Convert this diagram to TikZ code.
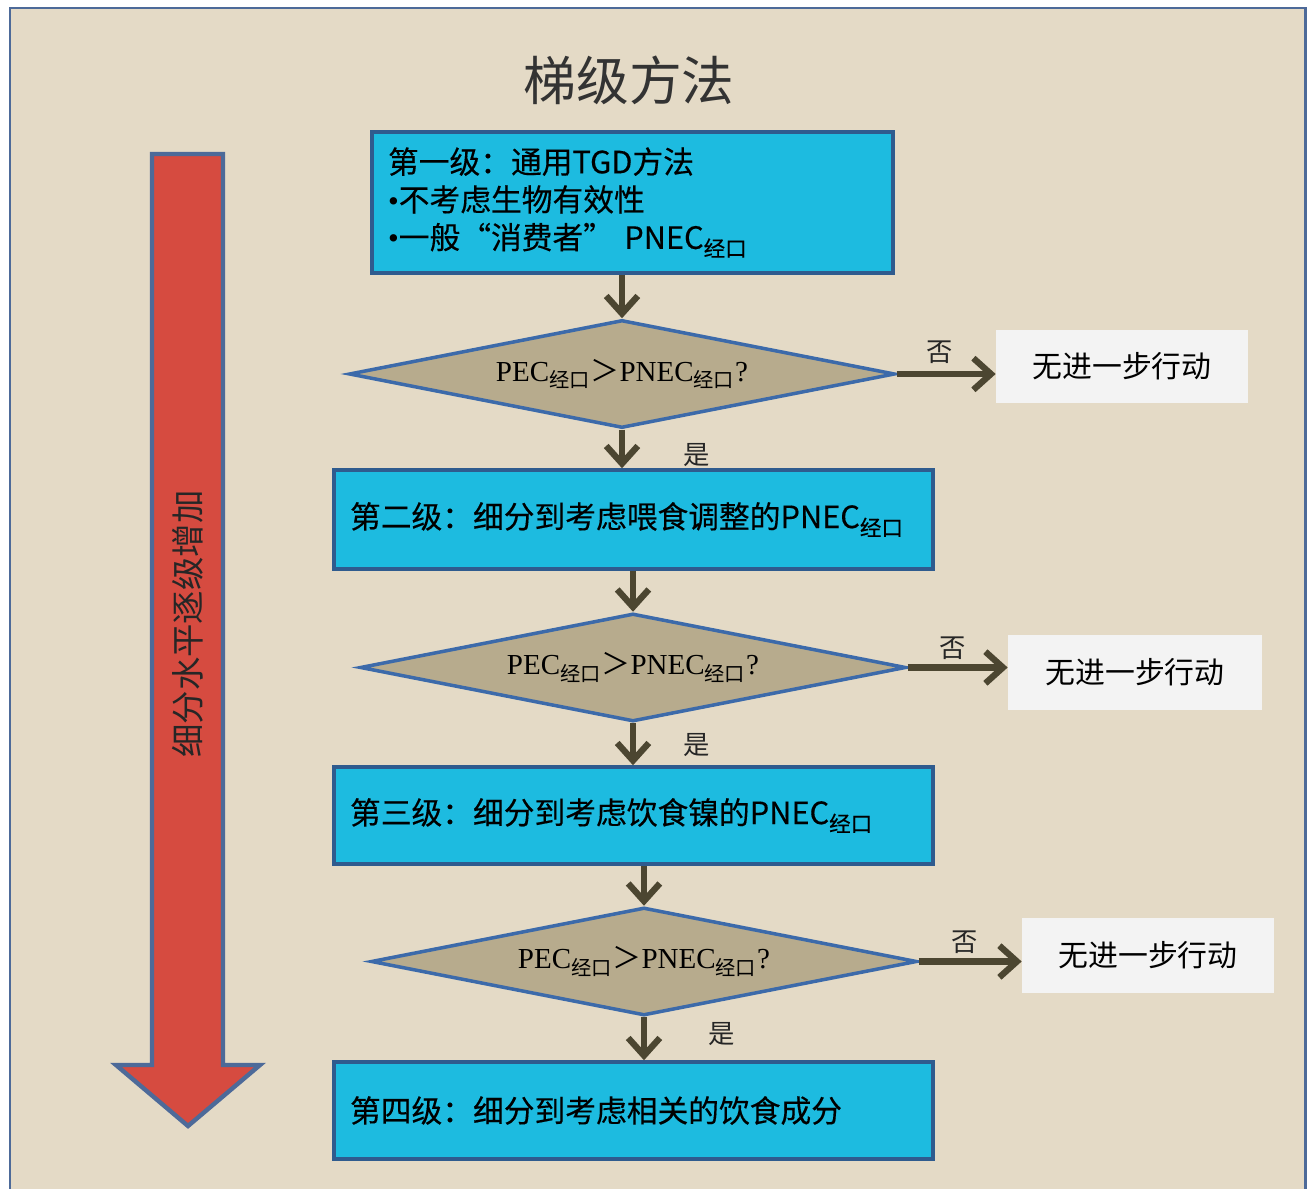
\documentclass[tikz,border=0pt]{standalone}
\usepackage{fontspec}
\setmainfont{Liberation Serif}
\newfontfamily\cjk{Noto Sans CJK SC}
\newfontfamily\cjkb[FakeBold=0.35]{Noto Sans CJK SC}
\usetikzlibrary{shapes.geometric,arrows.meta,calc}
\definecolor{bg}{HTML}{E4DAC6}
\definecolor{frameline}{HTML}{4D6A99}
\definecolor{boxfill}{HTML}{1DBBE0}
\definecolor{boxline}{HTML}{2F5B8E}
\definecolor{dfill}{HTML}{B7AB8D}
\definecolor{dline}{HTML}{3C6AAA}
\definecolor{arrowc}{HTML}{4C4631}
\definecolor{redf}{HTML}{D64B40}
\definecolor{nofill}{HTML}{F3F3F3}
\newcommand{\jk}{\textsubscript{经口}}
\newcommand{\jks}{\textsubscript{\cjk 经口}}
\newcommand{\bul}{{\rmfamily •}}
\begin{document}
\begin{tikzpicture}[x=0.02cm,y=-0.02cm,
  lvl/.style={draw=boxline, line width=2pt, fill=boxfill, rectangle, inner xsep=0.32cm, inner ysep=0pt, align=left, font=\cjkb\fontsize{17.5}{21.5}\selectfont},
  dec/.style={diamond, draw=dline, line width=2pt, fill=dfill, inner sep=0pt, aspect=5, minimum width=10.92cm, minimum height=2.16cm, font=\fontsize{16.5}{19}\selectfont},
  stopbox/.style={rectangle, fill=nofill, inner sep=0pt, font=\cjk\fontsize{17}{20}\selectfont},
  flow/.style={draw=arrowc, line width=3.6pt, -{Straight Barb[length=10pt,width=18pt]}},
  lab/.style={font=\cjk\fontsize{15}{17}\selectfont, inner sep=0pt, text=black!85}
]
\useasboundingbox (0,0) rectangle (1309,1189);
\fill[white] (0,0) rectangle (1309,1189);
\draw[fill=bg, draw=frameline, line width=1.7pt] (10,8) rectangle (1305,1240);

% title
\node[font=\cjk\fontsize{30}{34}\selectfont, text=black!80] (title) at (629,80) {梯级方法};

% red arrow
\draw[draw=frameline, line width=2.5pt, fill=redf, line join=miter]
  (152,154) -- (223,154) -- (223,1065) -- (260,1065) -- (188,1126) -- (116,1065) -- (152,1065) -- cycle;
\node[rotate=90, font=\cjk\fontsize{19}{22}\selectfont, text=black!85] (vt) at (188,624) {细分水平逐级增加};

% level boxes
\node[lvl, text width=9.78cm, minimum height=2.82cm] (b1) at (632.5,202.5)
  {第一级：通用TGD方法\\\bul 不考虑生物有效性\\\bul 一般“消费者” PNEC\jk};
\node[lvl, text width=11.34cm, minimum height=1.98cm] (b2) at (633.5,519.5)
  {第二级：细分到考虑喂食调整的PNEC\jk};
\node[lvl, text width=11.34cm, minimum height=1.94cm] (b3) at (633.5,815.5)
  {第三级：细分到考虑饮食镍的PNEC\jk};
\node[lvl, text width=11.34cm, minimum height=1.94cm] (b4) at (633.5,1110.5)
  {第四级：细分到考虑相关的饮食成分};

% decisions
\node[dec] (d1) at (622,374) {PEC\jks{\cjk ＞}PNEC\jks?};
\node[dec] (d2) at (633,667.5) {PEC\jks{\cjk ＞}PNEC\jks?};
\node[dec] (d3) at (644,961.5) {PEC\jks{\cjk ＞}PNEC\jks?};

% stop boxes
\node[stopbox, minimum width=5.04cm, minimum height=1.46cm] (n1) at (1122,366.5) {无进一步行动};
\node[stopbox, minimum width=5.08cm, minimum height=1.5cm] (n2) at (1135,672.5) {无进一步行动};
\node[stopbox, minimum width=5.04cm, minimum height=1.5cm] (n3) at (1148,955.5) {无进一步行动};

% vertical flow
\draw[flow] (d1.north |- b1.south) -- (d1.north);
\draw[flow] (d1.south) -- (d1.south |- b2.north);
\draw[flow] (d2.north |- b2.south) -- (d2.north);
\draw[flow] (d2.south) -- (d2.south |- b3.north);
\draw[flow] (d3.north |- b3.south) -- (d3.north);
\draw[flow] (d3.south) -- (d3.south |- b4.north);

% no branches
\draw[flow] (d1.east) -- (d1.east -| n1.west);
\draw[flow] (d2.east) -- (d2.east -| n2.west);
\draw[flow] (d3.east) -- (d3.east -| n3.west);

% labels
\node[lab] (no1) at (940,352) {否};
\node[lab] (no2) at (953,648) {否};
\node[lab] (no3) at (965,942) {否};
\node[lab] (yes1) at (697,455) {是};
\node[lab] (yes2) at (697,745) {是};
\node[lab] (yes3) at (722,1034) {是};
\end{tikzpicture}
\end{document}
